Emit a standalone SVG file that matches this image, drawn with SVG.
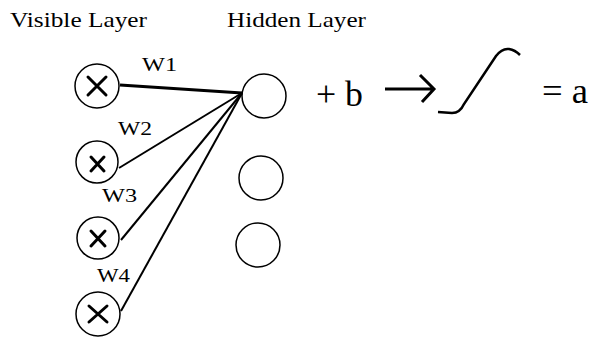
<svg xmlns="http://www.w3.org/2000/svg" width="590" height="341" viewBox="0 0 590 341">
<style>
.t{font-family:"Liberation Serif","Times New Roman",serif;fill:#000}
.lbl{font-size:21px}
.w{font-size:19px}
.big{font-size:35px}
.c{fill:none;stroke:#000;stroke-width:1.5}
.x{stroke:#000;stroke-width:3;stroke-linecap:round;fill:none}
.e{stroke:#000;stroke-width:2;fill:none}
</style>
<rect width="590" height="341" fill="#fff"/>
<text class="t lbl" x="10" y="27" textLength="137" lengthAdjust="spacingAndGlyphs">Visible Layer</text>
<text class="t lbl" x="227" y="27" textLength="139" lengthAdjust="spacingAndGlyphs">Hidden Layer</text>
<g id="connectors">
<line class="e" x1="120" y1="85" x2="242" y2="93" style="stroke-width:3"/>
<line class="e" x1="119" y1="168" x2="242" y2="93"/>
<line class="e" x1="121" y1="240" x2="242" y2="93"/>
<line class="e" x1="121" y1="311" x2="242" y2="93"/>
<path class="e" d="M385 89 H433 M420 75 L434 89 L422 102" style="stroke-width:3"/>
</g>
<g id="v1"><circle class="c" cx="97" cy="86" r="22"/><path class="x" d="M88 77 L106 95 M106 77 L88 95"/></g>
<g id="v2"><circle class="c" cx="97" cy="162" r="21"/><path class="x" d="M91 157 L104 171 M104 157 L91 171"/></g>
<g id="v3"><circle class="c" cx="98" cy="238" r="21"/><path class="x" d="M91 231 L105 246 M105 231 L91 246"/></g>
<g id="v4"><circle class="c" cx="98" cy="314" r="22"/><path class="x" d="M89 306 L107 322 M107 306 L89 322"/></g>
<g id="h1"><circle class="c" cx="264" cy="96" r="22"/></g>
<g id="h2"><circle class="c" cx="261" cy="178" r="22"/></g>
<g id="h3"><circle class="c" cx="258" cy="245" r="22"/></g>
<text class="t w" x="142" y="71" textLength="35" lengthAdjust="spacingAndGlyphs">W1</text>
<text class="t w" x="118" y="135" textLength="34" lengthAdjust="spacingAndGlyphs">W2</text>
<text class="t w" x="102" y="202" textLength="35" lengthAdjust="spacingAndGlyphs">W3</text>
<text class="t w" x="97" y="282" textLength="33" lengthAdjust="spacingAndGlyphs">W4</text>
<text class="t big" x="316" y="106" textLength="47" lengthAdjust="spacingAndGlyphs">+ b</text>
<path id="sigmoid" d="M438 112 L452 113 Q460 113 464 104 L496 56 Q502 48 509 49 Q515 50 520 55" fill="none" stroke="#000" stroke-width="2.5"/>
<text class="t big" x="542" y="103" textLength="46" lengthAdjust="spacingAndGlyphs">= a</text>
</svg>
